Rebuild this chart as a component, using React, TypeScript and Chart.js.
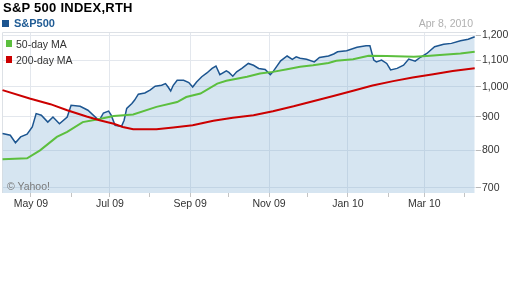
import React, { useEffect, useRef } from "react";
import { Chart, registerables } from "chart.js";

Chart.register(...registerables);

// Days counted from May 1, 2009
const spxDays = [-22, -16, -12, -8, -3, 1, 4, 8, 13, 17, 22, 28, 31, 38, 44, 51, 53, 56, 60, 62, 65, 70, 72, 74, 78, 80, 83, 88, 92, 96, 101, 104, 106, 108, 110, 113, 118, 122, 125, 128, 132, 136, 140, 143, 146, 151, 153, 156, 159, 163, 168, 172, 176, 181, 185, 187, 193, 198, 202, 205, 208, 213, 219, 223, 230, 234, 237, 244, 252, 259, 262, 265, 267, 271, 275, 278, 283, 288, 292, 297, 301, 306, 312, 319, 325, 332, 338, 343];
const spxValues = [848, 843, 821, 838, 846, 868, 910, 905, 883, 899, 878, 899, 937, 934, 921, 894, 890, 912, 918, 905, 873, 870, 889, 927, 943, 954, 975, 979, 989, 1003, 1006, 1012, 1000, 986, 1006, 1024, 1024, 1016, 1000, 1018, 1037, 1051, 1068, 1077, 1045, 1059, 1053, 1039, 1055, 1068, 1087, 1080, 1068, 1064, 1045, 1055, 1097, 1116, 1103, 1113, 1107, 1103, 1093, 1110, 1116, 1124, 1133, 1137, 1151, 1157, 1157, 1100, 1093, 1100, 1087, 1062, 1068, 1080, 1104, 1096, 1111, 1126, 1153, 1163, 1167, 1178, 1184, 1195];

const ma50Days = [-22, -3, 7, 20, 28, 40, 51, 64, 79, 97, 113, 120, 131, 144, 151, 167, 177, 187, 198, 208, 218, 230, 236, 249, 261, 275, 296, 306, 316, 332, 343];
const ma50Values = [774, 777, 799, 838, 853, 883, 891, 902, 907, 932, 948, 965, 977, 1012, 1022, 1037, 1049, 1055, 1065, 1074, 1080, 1089, 1097, 1103, 1117, 1116, 1113, 1116, 1120, 1126, 1133];

const ma200Days = [-22, -1, 15, 28, 43, 53, 64, 71, 79, 97, 110, 125, 141, 156, 172, 187, 203, 218, 233, 249, 264, 280, 295, 311, 326, 343];
const ma200Values = [989, 960, 941, 921, 901, 889, 878, 868, 861, 861, 866, 873, 887, 897, 905, 918, 934, 951, 968, 987, 1005, 1021, 1034, 1046, 1058, 1069];

const yTickValues = [700, 800, 900, 1000, 1100, 1200];
const monthTickDays = [0, 31, 61, 92, 123, 153, 184, 214, 245, 276, 304, 335];
const monthTickLabels = ["May 09", "", "Jul 09", "", "Sep 09", "", "Nov 09", "", "Jan 10", "", "Mar 10", ""];

const FONT = "Arial, 'Liberation Sans', sans-serif";

const framePlugin = {
  id: "frame",
  beforeDatasetsDraw(chart: any) {
    const { ctx, chartArea: a } = chart;
    ctx.save();
    ctx.strokeStyle = "#dde1e6";
    ctx.lineWidth = 1;
    ctx.beginPath();
    ctx.moveTo(a.left + 0.5, a.bottom);
    ctx.lineTo(a.left + 0.5, a.top + 0.5);
    ctx.lineTo(a.right, a.top + 0.5);
    ctx.stroke();
    ctx.restore();
  },
};

export default function App() {
  const ref = useRef<HTMLCanvasElement>(null);

  useEffect(() => {
    document.body.style.margin = "0";
    const toPts = (d: number[], v: number[]) => d.map((x, i) => ({ x, y: v[i] }));
    const chart = new Chart(ref.current!, {
      type: "line",
      data: {
        datasets: [
          {
            label: "200-day MA",
            data: toPts(ma200Days, ma200Values),
            borderColor: "#cc0000",
            borderWidth: 2,
            pointRadius: 0,
            fill: false,
            order: 0,
          },
          {
            label: "50-day MA",
            data: toPts(ma50Days, ma50Values),
            borderColor: "#5cbf3e",
            borderWidth: 2,
            pointRadius: 0,
            fill: false,
            order: 1,
          },
          {
            label: "S&P500",
            data: toPts(spxDays, spxValues),
            borderColor: "#1c5590",
            borderWidth: 1.5,
            backgroundColor: "rgba(120,170,210,0.3)",
            pointRadius: 0,
            fill: "start",
            order: 2,
          },
        ],
      },
      options: {
        animation: false,
        responsive: false,
        devicePixelRatio: 1,
        layout: { padding: { left: 2, top: 32, right: 0, bottom: 0 } },
        plugins: { legend: { display: false }, tooltip: { enabled: false } },
        elements: { line: { tension: 0 } },
        scales: {
          x: {
            type: "linear",
            min: -22.4,
            max: 344,
            border: { display: false },
            afterBuildTicks: (s: any) => {
              s.ticks = monthTickDays.map((v) => ({ value: v }));
            },
            afterFit: (s: any) => {
              s.height = 95;
            },
            grid: {
              color: (c: any) => (monthTickLabels[c.index] ? "#e3e7ed" : "rgba(0,0,0,0)"),
              tickColor: "#c4c4c4",
              tickLength: 4,
            },
            ticks: {
              autoSkip: false,
              maxRotation: 0,
              padding: 1,
              color: "#333",
              font: { family: FONT, size: 10.5 },
              callback: (_v: any, i: number) => monthTickLabels[i],
            },
          },
          y: {
            type: "logarithmic",
            position: "right",
            min: 687,
            max: 1215,
            border: { display: false },
            afterBuildTicks: (s: any) => {
              s.ticks = yTickValues.map((v) => ({ value: v }));
            },
            afterFit: (s: any) => {
              s.width = 36;
            },
            grid: { color: "#e3e7ed", tickColor: "#b8b8b8", tickLength: 5 },
            ticks: {
              padding: 1,
              color: "#333",
              font: { family: FONT, size: 10.5 },
              callback: (v: any) => Number(v).toLocaleString("en-US"),
            },
          },
        },
      },
      plugins: [framePlugin],
    });
    return () => chart.destroy();
  }, []);

  const txt: React.CSSProperties = { position: "absolute", fontFamily: FONT, whiteSpace: "nowrap", lineHeight: "13px" };

  return (
    <div style={{ position: "relative", width: 512, height: 288, background: "#fff", overflow: "hidden" }}>
      <canvas ref={ref} width={512} height={288} style={{ display: "block" }} />
      <div style={{ ...txt, left: 3, top: 0, fontSize: 13, fontWeight: "bold", color: "#000", lineHeight: "15px", letterSpacing: "0.25px" }}>
        S&amp;P 500 INDEX,RTH
      </div>
      <div style={{ position: "absolute", left: 2, top: 20, width: 7, height: 7, background: "#1c5590" }} />
      <div style={{ ...txt, left: 14, top: 17, fontSize: 11, fontWeight: "bold", color: "#1f5b94" }}>S&amp;P500</div>
      <div style={{ ...txt, right: 39, top: 17, fontSize: 10.5, color: "#b0b0b0" }}>Apr 8, 2010</div>
      <div style={{ position: "absolute", left: 6, top: 40, width: 6, height: 7, background: "#5cbf3e" }} />
      <div style={{ ...txt, left: 16, top: 38, fontSize: 10.5, color: "#333" }}>50-day MA</div>
      <div style={{ position: "absolute", left: 6, top: 56, width: 6, height: 7, background: "#cc0000" }} />
      <div style={{ ...txt, left: 16, top: 54, fontSize: 10.5, color: "#333" }}>200-day MA</div>
      <div style={{ ...txt, left: 7, top: 180, fontSize: 10.5, color: "#7a7a7a" }}>© Yahoo!</div>
    </div>
  );
}
